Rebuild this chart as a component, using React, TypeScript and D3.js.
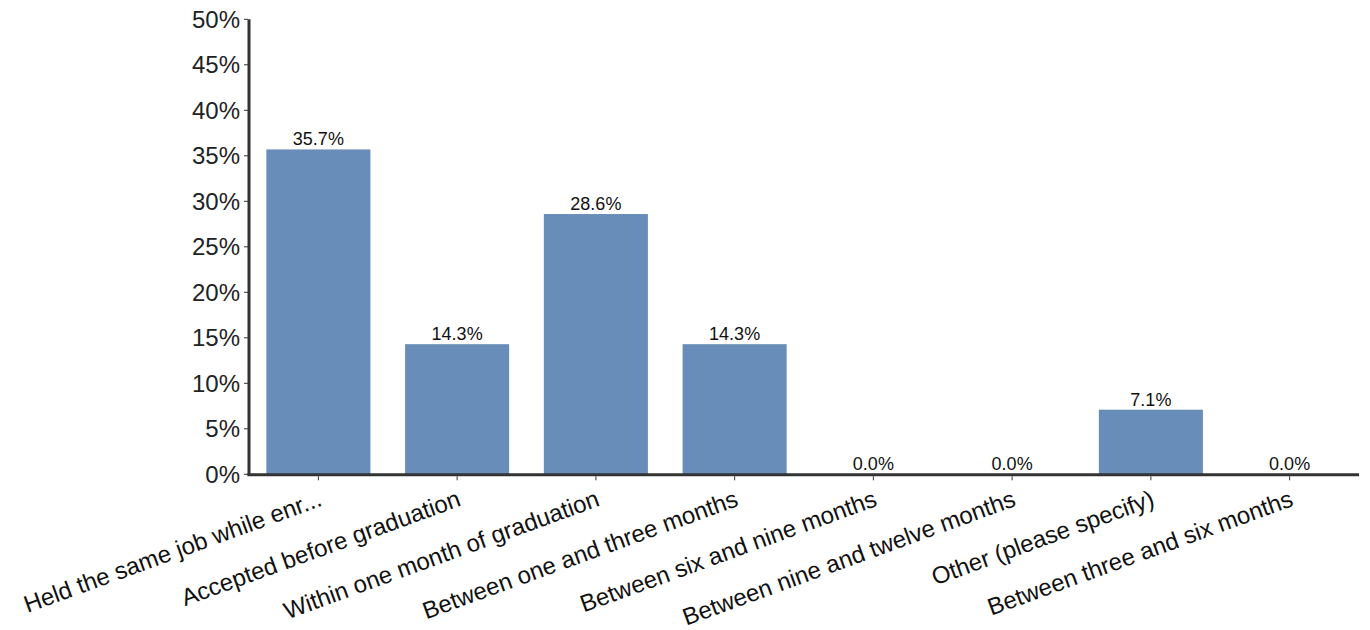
import React from "react";
import * as d3 from "d3";

const categories = [
  "Held the same job while enr...",
  "Accepted before graduation",
  "Within one month of graduation",
  "Between one and three months",
  "Between six and nine months",
  "Between nine and twelve months",
  "Other (please specify)",
  "Between three and six months",
];
const values = [35.7, 14.3, 28.6, 14.3, 0.0, 0.0, 7.1, 0.0];
const yTicks = [0, 5, 10, 15, 20, 25, 30, 35, 40, 45, 50];

const W = 1370;
const H = 630;
const FONT = "'Liberation Sans', Arial, sans-serif";

export default function App() {
  const x = d3
    .scaleBand<string>()
    .domain(categories)
    .range([249, 1359])
    .paddingInner(0.25)
    .paddingOuter(0.125);
  const y = d3.scaleLinear().domain([0, 50]).range([474.3, 19.3]);
  const axisColor = "#333333";

  return (
    <svg
      width={W}
      height={H}
      style={{ position: "absolute", left: 0, top: 0, fontFamily: FONT }}
    >
      {/* bars */}
      {categories.map((c, i) => (
        <rect
          key={c}
          x={x(c)}
          y={y(values[i])}
          width={x.bandwidth()}
          height={y(0) - y(values[i])}
          fill="#688db8"
        />
      ))}
      {/* value labels */}
      {categories.map((c, i) => (
        <text
          key={"v" + c}
          x={(x(c) as number) + x.bandwidth() / 2}
          y={y(values[i]) - 4}
          textAnchor="middle"
          fontSize={18}
          fill="#111"
        >
          {values[i].toFixed(1) + "%"}
        </text>
      ))}
      {/* y axis */}
      {yTicks.map((t) => (
        <g key={"yt" + t}>
          <line x1={244} x2={248} y1={y(t)} y2={y(t)} stroke={axisColor} strokeWidth={1} />
          <text
            x={240}
            y={y(t)}
            dy="0.36em"
            textAnchor="end"
            fontSize={24}
            fill="#222"
          >
            {t + "%"}
          </text>
        </g>
      ))}
      <line x1={249} x2={249} y1={y(50)} y2={y(0) + 1.5} stroke={axisColor} strokeWidth={3} />
      {/* x axis */}
      <line x1={247.5} x2={1359} y1={y(0) + 0.5} y2={y(0) + 0.5} stroke={axisColor} strokeWidth={3} />
      {categories.map((c) => {
        const cx = (x(c) as number) + x.bandwidth() / 2;
        return (
          <g key={"xt" + c}>
            <line x1={cx} x2={cx} y1={y(0) + 2} y2={y(0) + 6} stroke={axisColor} strokeWidth={1} />
            <text
              transform={`translate(${cx + 5},${y(0) + 31}) rotate(-20)`}
              textAnchor="end"
              fontSize={24}
              fill="#111"
            >
              {c}
            </text>
          </g>
        );
      })}
    </svg>
  );
}
